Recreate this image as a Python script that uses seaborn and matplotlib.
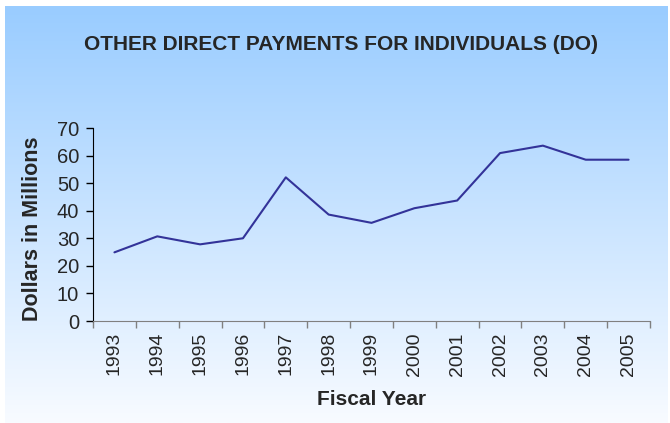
import numpy as np
import matplotlib
matplotlib.use("Agg")
import matplotlib.pyplot as plt
import seaborn as sns

# Data
years = ['1993', '1994', '1995', '1996', '1997', '1998', '1999',
         '2000', '2001', '2002', '2003', '2004', '2005']
dollars = [24.9, 30.7, 27.8, 30.0, 52.1, 38.6, 35.6,
           40.9, 43.7, 60.9, 63.6, 58.5, 58.5]

sns.set_style('white')
plt.rcParams['font.family'] = ['Liberation Sans', 'DejaVu Sans']

fig = plt.figure(figsize=(6.7, 4.23), dpi=100)
fig.patch.set_facecolor('white')

# Gradient background panel
bg = fig.add_axes([5 / 670, 0, 663 / 670, 417 / 423], zorder=0)
top = np.array([153, 204, 255]) / 255
bottom = np.array([248, 251, 255]) / 255
t = np.linspace(0, 1, 256)[:, None]
grad = top * (1 - t) + bottom * t
bg.imshow(grad[:, None, :], aspect='auto', extent=[0, 1, 0, 1])
bg.axis('off')

ax = fig.add_axes([93 / 670, 1 - 321 / 423, 557 / 670, 193 / 423], zorder=1)
ax.patch.set_alpha(0)

pos = np.arange(len(years))
sns.lineplot(x=pos, y=dollars, ax=ax, color='#333399', linewidth=1.5)

ax.set_ylim(0, 70)
ax.set_yticks(range(0, 71, 10))
ax.set_xlim(-0.5, len(years) - 0.5)
ax.set_xticks(np.arange(-0.5, len(years), 1.0))
ax.set_xticklabels([])
ax.set_xticks(pos, minor=True)
ax.set_xticklabels(years, minor=True, rotation=90)

ax.tick_params(axis='y', direction='out', length=5, width=1, color='black',
               labelsize=14.5, pad=5, left=True)
ax.tick_params(axis='x', which='major', direction='out', length=5, width=1,
               color='#808080', bottom=True)
ax.tick_params(axis='x', which='minor', length=0, labelsize=14, pad=8)

for side in ['top', 'right']:
    ax.spines[side].set_visible(False)
ax.spines['left'].set_color('black')
ax.spines['bottom'].set_color('#808080')

ax.set_ylabel('Dollars in Millions', fontsize=15.5, fontweight='bold')
ax.yaxis.set_label_coords(-0.09, 0.48)
ax.set_xlabel('Fiscal Year', fontsize=15, fontweight='bold', labelpad=10)

fig.text(341 / 670, 1 - 45 / 423, 'OTHER DIRECT PAYMENTS FOR INDIVIDUALS (DO)',
         ha='center', va='center', fontsize=15, fontweight='bold')

fig.savefig('out.png', dpi=100)
